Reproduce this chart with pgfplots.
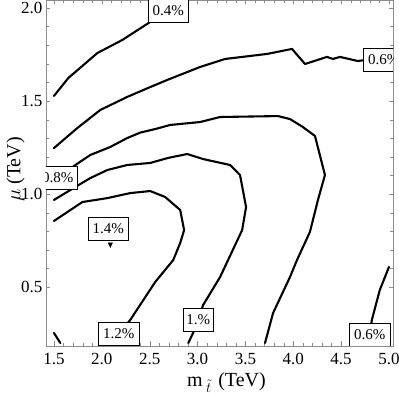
\documentclass[border=0pt]{standalone}
\usepackage{fontspec}
\setmainfont{Liberation Serif}
\usepackage{pgfplots}
\pgfplotsset{compat=1.18}
\tikzset{lbl/.style={draw=black,fill=white,line width=0.8pt,inner xsep=4.5pt,
    minimum height=23pt,font=\fontsize{15}{15}\selectfont}}
\pgfplotsset{cline/.style={black,line width=2.1pt,line join=round,line cap=round}}

\begin{document}
\begin{tikzpicture}
\begin{axis}[
  scale only axis,
  width=347pt,height=346pt,
  xmin=1.417,xmax=5.042,ymin=0.183,ymax=2.043,
  xtick={1.5,2.0,2.5,3.0,3.5,4.0,4.5,5.0},
  ytick={0.5,1.0,1.5,2.0},
  minor x tick num=4,minor y tick num=4,
  tick align=inside,
  major tick length=4.5pt,minor tick length=2.8pt,
  axis line style={black!45},
  tick style={black!45},
  tick label style={font=\fontsize{17}{17}\selectfont},
  xticklabel style={yshift=-4pt},
  /pgf/number format/.cd,fixed,fixed zerofill,precision=1,assume math mode=true,
  /pgfplots/.cd,
  xlabel={m\,$_{\tilde{t}}$\,\,(TeV)},
  ylabel={$\mu$ (TeV)},
  label style={font=\fontsize{20}{20}\selectfont},
  xlabel style={at={(axis description cs:0.52,0)},anchor=base,yshift=-41pt},
  ylabel style={at={(axis description cs:-0.088,0.51)},anchor=center},
]
% 0.4%
\addplot[cline] coordinates {(1.5,1.527)(1.651,1.624)(1.954,1.758)(2.214,1.828)(2.506,1.925)(2.690,1.98)};
% 0.6% upper
\addplot[cline] coordinates {(1.5,1.247)(1.745,1.355)(1.985,1.452)(2.266,1.522)(2.506,1.575)(2.683,1.613)
  (3.027,1.683)(3.288,1.726)(3.726,1.753)(3.987,1.780)(4.123,1.699)(4.352,1.737)(4.415,1.726)
  (4.488,1.737)(4.675,1.715)(4.748,1.720)(4.938,1.72)};
% 0.8%
\addplot[cline] coordinates {(1.5,1.07)(1.724,1.156)(1.881,1.210)(2.089,1.253)(2.266,1.301)(2.401,1.330)
  (2.579,1.352)(2.711,1.371)(3.027,1.387)(3.236,1.414)(3.841,1.419)(3.966,1.403)(4.101,1.360)
  (4.227,1.312)(4.331,1.102)(4.258,0.968)(4.174,0.796)(4.039,0.645)(3.966,0.554)(3.789,0.360)(3.705,0.199)};
% 1.0%
\addplot[cline] coordinates {(1.5,0.968)(1.724,1.038)(1.881,1.086)(2.058,1.129)(2.266,1.156)(2.506,1.167)
  (2.693,1.194)(2.892,1.215)(3.058,1.188)(3.340,1.156)(3.444,1.102)(3.507,0.930)(3.466,0.806)
  (3.319,0.645)(3.236,0.554)(3.058,0.403)(3.007,0.32)(2.954,0.253)(2.903,0.199)};
% 1.2%
\addplot[cline] coordinates {(1.5,0.855)(1.797,0.957)(2.058,0.978)(2.297,1.005)(2.506,1.016)(2.662,0.984)
  (2.819,0.914)(2.860,0.806)(2.819,0.737)(2.746,0.645)(2.558,0.527)(2.297,0.323)(2.178,0.247)};
\addplot[cline] coordinates {(1.5,0.253)(1.567,0.199)};
% 1.4% small closed contour
\addplot[black,fill=black,line width=0.6pt] coordinates {(2.068,0.737)(2.110,0.737)(2.089,0.714)} -- cycle;
% 0.6% lower right
\addplot[cline] coordinates {(5.0,0.608)(4.904,0.484)(4.821,0.323)(4.800,0.242)};

\node[lbl] at (axis cs:2.695,1.985) {0.4\%};
\node[lbl] at (axis cs:4.944,1.72) {0.6\%};
\node[lbl] at (axis cs:1.540,1.089) {0.8\%};
\node[lbl] at (axis cs:2.068,0.812) {1.4\%};
\node[lbl] at (axis cs:2.178,0.247) {1.2\%};
\node[lbl,inner xsep=3pt] at (axis cs:3.007,0.323) {1.\%};
\node[lbl] at (axis cs:4.800,0.242) {0.6\%};
\end{axis}
\pgfresetboundingbox
\path[use as bounding box] (current axis.south west) ++(-46pt,-49pt) rectangle ([xshift=6pt]current axis.north east);
\end{tikzpicture}
\end{document}
